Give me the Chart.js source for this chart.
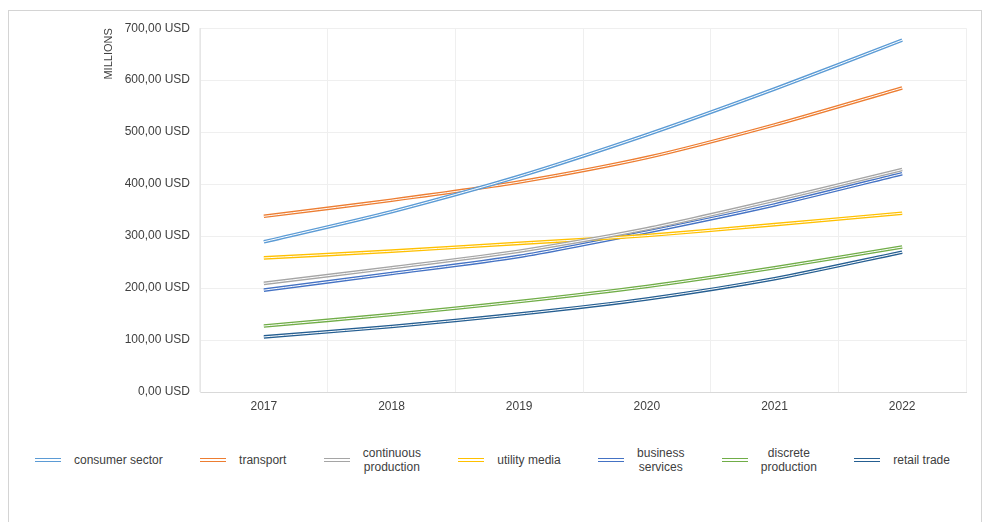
<!DOCTYPE html>
<html>
<head>
<meta charset="utf-8">
<script src="https://cdn.jsdelivr.net/npm/chart.js@4.4.1/dist/chart.umd.min.js"></script>
<style>
  html, body { margin: 0; padding: 0; background: #fff; }
  body { width: 982px; height: 522px; overflow: hidden; position: relative; font-family: "Liberation Sans", Arial, sans-serif; }
  #frame { position: absolute; left: 8px; top: 10px; width: 972px; height: 520px; border: 1px solid #d4d4d4; border-bottom: none; }
  #chartBox { position: absolute; left: 0; top: 0; width: 972px; height: 420px; }
  #legend { position: absolute; left: 26px; top: 434px; width: 915px; height: 30px; display: flex; justify-content: space-between; align-items: center; font-size: 12px; color: #404040; }
  .item { display: flex; align-items: center; }
  .swatch { width: 26px; height: 4px; box-sizing: border-box; border-top: 1.5px solid; border-bottom: 1.5px solid; }
  .label { margin-left: 13px; text-align: center; white-space: pre-line; line-height: 14px; }
</style>
</head>
<body>
<div id="frame">
  <div id="chartBox"><canvas id="lineChart"></canvas></div>
  <div id="legend"></div>
</div>
<script>
// ---------------------------------------------------------
// DATA (values in millions USD)
// ---------------------------------------------------------
const years = ['2017', '2018', '2019', '2020', '2021', '2022'];

const consumerSector     = [289, 347, 415, 495, 583, 677];
const transport          = [338, 369, 404, 451, 514, 585];
const continuousProd     = [209, 239, 271, 314, 369, 428];
const utilityMedia       = [258, 271, 286, 301, 322, 344];
const businessServices   = [196, 228, 261, 308, 360, 420];
const discreteProd       = [127, 149, 174, 203, 239, 279];
const retailTrade        = [106, 126, 150, 179, 218, 269];

const seriesNames = ['consumer sector', 'transport', 'continuous\nproduction', 'utility media',
                     'business\nservices', 'discrete\nproduction', 'retail trade'];
const seriesValues = [consumerSector, transport, continuousProd, utilityMedia,
                      businessServices, discreteProd, retailTrade];
const seriesColors = ['#5B9BD5', '#ED7D31', '#A5A5A5', '#FFC000', '#4472C4', '#70AD47', '#255E91'];

const yTicks = [0, 100, 200, 300, 400, 500, 600, 700];

// ---------------------------------------------------------
// "double" line look: white core stroked over each series
// ---------------------------------------------------------
const doubleLine = {
    id: 'doubleLine',
    afterDatasetDraw(chart, args) {
        const line = args.meta.dataset;
        if (!line) return;
        const ctx = chart.ctx;
        ctx.save();
        ctx.beginPath();
        line.path(ctx);
        ctx.lineWidth = 1;
        ctx.strokeStyle = '#ffffff';
        ctx.lineJoin = 'round';
        ctx.stroke();
        ctx.restore();
    }
};

const fmtUsd = v => v.toFixed(2).replace('.', ',') + ' USD';

const chart = new Chart(document.getElementById('lineChart'), {
    type: 'line',
    data: {
        labels: years,
        datasets: seriesNames.map((name, i) => ({
            label: name,
            data: seriesValues[i],
            borderColor: seriesColors[i],
            backgroundColor: seriesColors[i],
            borderWidth: 3.6,
            pointRadius: 0,
            tension: 0.25,
            fill: false
        }))
    },
    options: {
        responsive: true,
        maintainAspectRatio: false,
        animation: false,
        layout: { padding: { top: 17, right: 15, bottom: 9, left: 0 } },
        plugins: {
            legend: { display: false },
            tooltip: { enabled: false }
        },
        scales: {
            x: {
                offset: true,
                grid: { color: '#efefef', drawTicks: false, offset: true },
                border: { color: '#d9d9d9' },
                ticks: { color: '#404040', font: { family: 'Liberation Sans', size: 12 }, padding: 7 },
                afterFit(scale) { scale.height = 30; }
            },
            y: {
                min: 0,
                max: 700,
                afterBuildTicks(scale) { scale.ticks = yTicks.map(v => ({ value: v })); },
                grid: { color: '#efefef', drawTicks: false },
                border: { color: '#e6e6e6' },
                ticks: {
                    color: '#404040',
                    font: { family: 'Liberation Sans', size: 12 },
                    padding: 10,
                    callback: v => fmtUsd(v)
                },
                title: {
                    display: true,
                    text: 'MILLIONS',
                    align: 'end',
                    color: '#404040',
                    font: { family: 'Liberation Sans', size: 11 },
                    padding: { top: 93, bottom: 0 }
                },
                afterFit(scale) { scale.width = 191; }
            }
        }
    },
    plugins: [doubleLine]
});

// HTML legend built from the chart's datasets
const legendEl = document.getElementById('legend');
chart.data.datasets.forEach(ds => {
    const item = document.createElement('div');
    item.className = 'item';
    const sw = document.createElement('span');
    sw.className = 'swatch';
    sw.style.borderColor = ds.borderColor;
    const lb = document.createElement('span');
    lb.className = 'label';
    lb.textContent = ds.label;
    item.appendChild(sw);
    item.appendChild(lb);
    legendEl.appendChild(item);
});
</script>
</body>
</html>
